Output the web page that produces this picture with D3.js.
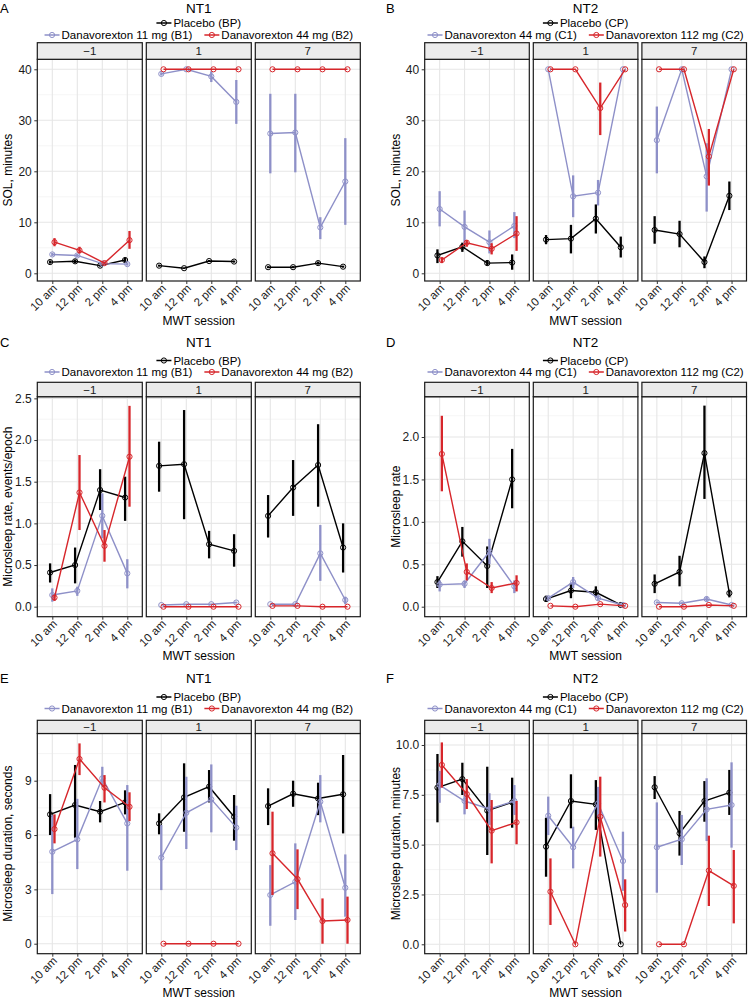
<!DOCTYPE html>
<html><head><meta charset="utf-8">
<script src="https://cdn.jsdelivr.net/npm/d3@7"></script>
<style>
body{margin:0;background:#fff}
text{font-family:"Liberation Sans",Arial,Helvetica,sans-serif}
</style>
</head><body>
<svg id="c" width="748" height="1000"></svg>
<script>
// ---------- categories / labels ----------
const sessions = ["10 am", "12 pm", "2 pm", "4 pm"];
const days = ["\u22121", "1", "7"];
const nt1Series = ["Placebo (BP)", "Danavorexton 11 mg (B1)", "Danavorexton 44 mg (B2)"];
const nt2Series = ["Placebo (CP)", "Danavorexton 44 mg (C1)", "Danavorexton 112 mg (C2)"];
const ticksSOL = [0, 10, 20, 30, 40];
const ticksRate1 = [0, 0.5, 1.0, 1.5, 2.0, 2.5];
const ticksRate2 = [0, 0.5, 1.0, 1.5, 2.0];
const ticksDurSec = [0, 3, 6, 9];
const ticksDurMin = [0, 2.5, 5.0, 7.5, 10.0];

// ---------- values: per day (−1, 1, 7), per session: [mean, lower, upper] ----------
// A: NT1 SOL, minutes
const A_BP = [[[2.2,1.9,2.5],[2.35,2.0,2.7],[1.5,1.3,1.7],[2.6,2.1,3.1]],
              [[1.5,1.3,1.7],[1.0,0.9,1.1],[2.4,2.2,2.6],[2.3,2.1,2.5]],
              [[1.2,1.0,1.4],[1.2,1.0,1.4],[2.0,1.7,2.3],[1.3,1.1,1.5]]];
const A_B1 = [[[3.7,3.4,4.0],[3.5,3.2,3.8],[1.9,1.7,2.1],[1.8,1.5,2.1]],
              [[39.1,38.8,39.4],[40,40,40],[38.6,37.5,39.6],[33.6,29.3,37.9]],
              [[27.4,19.6,35.2],[27.6,19.8,35.2],[9.0,6.7,11.0],[18.0,9.5,26.5]]];
const A_B2 = [[[6.1,5.3,6.9],[4.5,3.9,5.2],[2.0,1.7,2.3],[6.5,4.8,8.3]],
              [[40,40,40],[40,40,40],[40,40,40],[40,40,40]],
              [[40,40,40],[40,40,40],[40,40,40],[40,40,40]]];
// B: NT2 SOL, minutes
const B_CP = [[[3.5,2.0,4.7],[5.2,4.2,6.0],[2.0,1.5,2.6],[2.1,0.7,3.7]],
              [[6.6,5.7,7.5],[6.8,3.9,9.5],[10.7,7.8,13.5],[5.1,3.1,7.2]],
              [[8.5,5.8,11.2],[7.7,5.1,10.3],[2.2,1.0,3.3],[15.2,12.4,18.0]]];
const B_C1 = [[[12.6,9.2,16.1],[9.1,5.7,12.3],[6.1,3.9,8.4],[9.3,6.9,12.0]],
              [[40,40,40],[15.1,11.0,19.2],[15.8,13.3,18.3],[40,40,40]],
              [[26.1,19.6,32.7],[40,40,40],[19.0,12.1,25.5],[40,40,40]]];
const B_C2 = [[[2.6,2.0,3.1],[6.0,5.2,6.5],[4.8,3.7,5.9],[7.8,4.4,11.2]],
              [[40,40,40],[40,40,40],[32.4,27.1,37.4],[40,40,40]],
              [[40,40,40],[40,40,40],[22.9,17.2,28.3],[40,40,40]]];
// C: NT1 microsleep rate, events/epoch
const C_BP = [[[0.41,0.29,0.52],[0.50,0.28,0.71],[1.40,1.16,1.65],[1.31,1.03,1.56]],
              [[1.69,1.38,1.98],[1.71,1.05,2.36],[0.75,0.58,0.91],[0.67,0.48,0.87]],
              [[1.09,0.83,1.34],[1.43,1.09,1.76],[1.70,1.20,2.19],[0.71,0.41,1.00]]];
const C_B1 = [[[0.14,0.06,0.22],[0.19,0.13,0.24],[1.09,0.82,1.36],[0.40,0.22,0.57]],
              [[0.02,0.02,0.02],[0.03,0.03,0.03],[0.03,0.03,0.03],[0.05,0.04,0.06]],
              [[0.03,0.03,0.03],[0.03,0.03,0.03],[0.64,0.31,0.98],[0.08,0.03,0.12]]];
const C_B2 = [[[0.11,0.07,0.14],[1.37,0.92,1.82],[0.73,0.54,0.92],[1.80,1.20,2.41]],
              [[0,0,0],[0,0,0],[0,0,0],[0,0,0]],
              [[0.01,0.01,0.01],[0.01,0.01,0.01],[0,0,0],[0,0,0]]];
// D: NT2 microsleep rate
const D_CP = [[[0.29,0.22,0.36],[0.77,0.59,0.94],[0.48,0.22,0.71],[1.50,1.16,1.86]],
              [[0.09,0.06,0.13],[0.19,0.10,0.28],[0.17,0.11,0.24],[0.02,0.01,0.03]],
              [[0.27,0.16,0.38],[0.41,0.24,0.60],[1.81,1.27,2.37],[0.16,0.11,0.20]]];
const D_C1 = [[[0.26,0.18,0.31],[0.27,0.22,0.31],[0.65,0.50,0.80],[0.24,0.16,0.31]],
              [[0.10,0.08,0.12],[0.29,0.22,0.35],[0.10,0.08,0.13],[0.02,0.01,0.03]],
              [[0.05,0.04,0.06],[0.04,0.03,0.05],[0.09,0.06,0.12],[0.02,0.01,0.03]]];
const D_C2 = [[[1.80,1.36,2.25],[0.41,0.31,0.51],[0.22,0.16,0.29],[0.28,0.18,0.37]],
              [[0.01,0.01,0.01],[0,0,0],[0.03,0.03,0.03],[0.01,0.01,0.01]],
              [[0,0,0],[0,0,0],[0.02,0.02,0.02],[0.01,0.01,0.01]]];
// E: NT1 microsleep duration, seconds
const E_BP = [[[7.14,6.0,8.26],[7.66,5.85,9.87],[7.29,6.7,7.88],[7.8,7.14,8.47]],
              [[6.64,6.04,7.2],[8.08,6.18,9.96],[8.67,7.8,9.59],[7.01,5.69,8.21]],
              [[7.6,6.55,8.58],[8.28,7.56,9.0],[8.02,7.1,8.89],[8.25,6.09,10.42]]];
const E_B1 = [[[5.08,2.74,7.1],[5.76,4.12,8.0],[9.13,8.67,9.77],[6.64,4.03,8.76]],
              [[4.75,2.96,6.55],[7.23,5.23,9.22],[7.97,6.15,9.9],[6.41,5.17,7.62]],
              [[2.69,0.99,4.34],[3.42,1.31,5.54],[7.84,6.7,9.31],[3.09,1.49,4.93]]];
const E_B2 = [[[6.33,5.54,7.14],[10.2,9.31,11.06],[8.61,7.8,9.31],[7.56,6.77,8.36]],
              [[0,0,0],[0,0,0],[0,0,0],[0,0,0]],
              [[4.99,2.69,7.29],[3.57,1.91,5.21],[1.25,0,2.5],[1.31,0,2.6]]];
// F: NT2 microsleep duration, minutes
const F_CP = [[[7.86,6.12,9.55],[8.29,7.49,9.11],[6.71,4.48,8.91],[7.12,5.85,8.36]],
              [[4.9,3.39,6.35],[7.19,5.82,8.53],[7.02,5.74,8.24],[0,0,0]],
              [[7.88,7.29,8.44],[5.57,4.45,6.69],[7.19,6.15,8.19],[7.61,6.49,8.75]]];
const F_C1 = [[[7.99,7.1,8.7],[7.19,6.52,7.66],[6.79,5.99,7.58],[7.19,6.49,7.99]],
              [[6.45,5.48,7.41],[4.87,3.81,5.9],[7.07,6.4,7.9],[4.18,2.68,5.65]],
              [[4.87,2.59,7.12],[5.27,3.98,6.49],[6.77,5.18,8.33],[6.99,4.85,9.13]]];
const F_C2 = [[[9.0,7.86,10.13],[7.54,6.79,8.29],[5.70,4.06,7.24],[6.12,5.02,7.19]],
              [[2.64,0.97,4.31],[0,0,0],[6.4,4.4,8.41],[1.97,0.64,3.26]],
              [[0,0,0],[0,0,0],[3.7,1.92,5.45],[2.93,1.05,4.73]]];

// ---------- layout ----------
const colors = ["#000000", "#8E90C8", "#D7262B"];
const dodge = [-2.2, 0, 2.2];
const cols = [
  {x0: 37.3, x1: 360.3, letterX: 0, yTitleX: 12},
  {x0: 424.7, x1: 746.5, letterX: 386, yTitleX: 399.5}
];
const rows = [
  {titleY: 12.5, leg1: 27, leg2: 39, stripTop: 42.7, stripBot: 59.3, plotBot: 281, xTitle: 325},
  {titleY: 346.5, leg1: 364.5, leg2: 376, stripTop: 382.3, stripBot: 396.7, plotBot: 616.7, xTitle: 660},
  {titleY: 682.5, leg1: 701, leg2: 712.5, stripTop: 720.3, stripBot: 733.5, plotBot: 953.7, xTitle: 997}
];
const f1 = d3.format(".1f");
const panels = [
  {letter:"A", title:"NT1", col:0, row:0, ylab:"SOL, minutes", dom:[-1.51, 41.96], ticks:ticksSOL, minorStep:5, fmt:d=>d, names:nt1Series, data:[A_BP, A_B1, A_B2]},
  {letter:"B", title:"NT2", col:1, row:0, ylab:"SOL, minutes", dom:[-1.51, 41.96], ticks:ticksSOL, minorStep:5, fmt:d=>d, names:nt2Series, data:[B_CP, B_C1, B_C2]},
  {letter:"C", title:"NT1", col:0, row:1, ylab:"Microsleep rate, events/epoch", dom:[-0.12, 2.52], ticks:ticksRate1, minorStep:0.25, fmt:f1, names:nt1Series, data:[C_BP, C_B1, C_B2]},
  {letter:"D", title:"NT2", col:1, row:1, ylab:"Microsleep rate", dom:[-0.118, 2.475], ticks:ticksRate2, minorStep:0.25, fmt:f1, names:nt2Series, data:[D_CP, D_C1, D_C2]},
  {letter:"E", title:"NT1", col:0, row:2, ylab:"Microsleep duration, seconds", dom:[-0.552, 11.607], ticks:ticksDurSec, minorStep:1.5, fmt:d=>d, names:nt1Series, data:[E_BP, E_B1, E_B2]},
  {letter:"F", title:"NT2", col:1, row:2, ylab:"Microsleep duration, minutes", dom:[-0.472, 10.577], ticks:ticksDurMin, minorStep:1.25, fmt:f1, names:nt2Series, data:[F_CP, F_C1, F_C2]}
];

const svg = d3.select("#c");
const FS = 12;

function drawKey(g, x, yb, color) {
  const cy = yb - 4;
  g.append("line").attr("x1", x).attr("x2", x + 15).attr("y1", cy).attr("y2", cy)
    .attr("stroke", color).attr("stroke-width", 1.5);
  g.append("circle").attr("cx", x + 7.5).attr("cy", cy).attr("r", 2.6)
    .attr("fill", "none").attr("stroke", color).attr("stroke-width", 1);
}

panels.forEach(p => {
  const c = cols[p.col], r = rows[p.row];
  const g = svg.append("g");
  const gap = 4;
  const fw = (c.x1 - c.x0 - 2 * gap) / 3;
  const y = d3.scaleLinear().domain(p.dom).range([r.plotBot, r.stripBot]);
  const x = d3.scalePoint().domain(sessions).range([0, fw]).padding(0.6);
  const cx = (c.x0 + c.x1) / 2;

  // panel letter and title
  g.append("text").attr("x", c.letterX).attr("y", r.titleY).attr("font-size", 13).text(p.letter);
  g.append("text").attr("x", cx).attr("y", r.titleY).attr("font-size", 13.5).attr("text-anchor", "middle").text(p.title);

  // legend
  const lg = g.append("g").attr("font-size", 11.5);
  const t1 = lg.append("text").attr("y", r.leg1).text(p.names[0]);
  const w1 = t1.node().getComputedTextLength();
  const start1 = cx - (17 + w1) / 2;
  drawKey(lg, start1, r.leg1, colors[0]);
  t1.attr("x", start1 + 17);
  const t2 = lg.append("text").attr("y", r.leg2).text(p.names[1]);
  const t3 = lg.append("text").attr("y", r.leg2).text(p.names[2]);
  const w2 = t2.node().getComputedTextLength(), w3 = t3.node().getComputedTextLength();
  const tot = 17 + w2 + 12 + 17 + w3;
  const s2 = cx - tot / 2;
  drawKey(lg, s2, r.leg2, colors[1]);
  t2.attr("x", s2 + 17);
  const s3 = s2 + 17 + w2 + 12;
  drawKey(lg, s3, r.leg2, colors[2]);
  t3.attr("x", s3 + 17);

  // axis titles
  g.append("text").attr("transform", `translate(${c.yTitleX},${(r.stripBot + r.plotBot) / 2}) rotate(-90)`)
    .attr("text-anchor", "middle").attr("font-size", FS).text(p.ylab);
  g.append("text").attr("x", cx).attr("y", r.xTitle).attr("text-anchor", "middle").attr("font-size", FS).text("MWT session");

  const minorVals = d3.range(0, p.dom[1], p.minorStep)
    .filter(v => !p.ticks.some(t => Math.abs(t - v) < 1e-9));

  days.forEach((day, di) => {
    const fx = c.x0 + di * (fw + gap);
    const fg = g.append("g").attr("transform", `translate(${fx},0)`);
    const ph = r.plotBot - r.stripBot;
    fg.append("rect").attr("x", 0).attr("y", r.stripBot).attr("width", fw).attr("height", ph).attr("fill", "#fff");
    fg.selectAll(".mn").data(minorVals).enter().append("line")
      .attr("x1", 0).attr("x2", fw).attr("y1", d => y(d)).attr("y2", d => y(d))
      .attr("stroke", "#f2f2f2").attr("stroke-width", 0.8);
    fg.selectAll(".mj").data(p.ticks).enter().append("line")
      .attr("x1", 0).attr("x2", fw).attr("y1", d => y(d)).attr("y2", d => y(d))
      .attr("stroke", "#e6e6e6").attr("stroke-width", 1.1);
    fg.selectAll(".vx").data(sessions).enter().append("line")
      .attr("x1", d => x(d)).attr("x2", d => x(d)).attr("y1", r.stripBot).attr("y2", r.plotBot)
      .attr("stroke", "#e6e6e6").attr("stroke-width", 1.1);

    p.data.forEach((arr, si) => {
      const pts = arr[di].map((d, k) => ({x: x(sessions[k]) + dodge[si], m: d[0], lo: d[1], hi: d[2]}));
      fg.append("path").attr("d", d3.line().x(d => d.x).y(d => y(d.m))(pts))
        .attr("fill", "none").attr("stroke", colors[si]).attr("stroke-width", 1.4);
      fg.selectAll(null).data(pts.filter(d => d.hi - d.lo > 1e-9)).enter().append("line")
        .attr("x1", d => d.x).attr("x2", d => d.x).attr("y1", d => y(d.lo)).attr("y2", d => y(d.hi))
        .attr("stroke", colors[si]).attr("stroke-width", 2.3);
      fg.selectAll(null).data(pts).enter().append("circle")
        .attr("cx", d => d.x).attr("cy", d => y(d.m)).attr("r", 2.6)
        .attr("fill", "none").attr("stroke", colors[si]).attr("stroke-width", 1);
    });

    fg.append("rect").attr("x", 0).attr("y", r.stripBot).attr("width", fw).attr("height", ph)
      .attr("fill", "none").attr("stroke", "#1a1a1a").attr("stroke-width", 1.2);
    fg.append("rect").attr("x", 0).attr("y", r.stripTop).attr("width", fw).attr("height", r.stripBot - r.stripTop)
      .attr("fill", "#ebebeb").attr("stroke", "#1a1a1a").attr("stroke-width", 1.2);
    fg.append("text").attr("x", fw / 2).attr("y", (r.stripTop + r.stripBot) / 2 + 4)
      .attr("text-anchor", "middle").attr("font-size", 11.5).attr("fill", "#1a1a1a").text(day);

    const xa = fg.append("g").attr("transform", `translate(0,${r.plotBot})`)
      .call(d3.axisBottom(x).tickSize(3).tickSizeOuter(0));
    xa.select(".domain").remove();
    xa.selectAll("line").attr("stroke", "#333");
    xa.selectAll("text").attr("font-size", 11.5).attr("fill", "#1a1a1a").attr("font-family", null)
      .attr("y", 0).attr("x", 0).attr("dy", "0.6em")
      .attr("text-anchor", "end").attr("transform", "translate(0,3) rotate(-45)");

    if (di === 0) {
      const ya = fg.append("g").call(d3.axisLeft(y).tickValues(p.ticks).tickFormat(p.fmt).tickSize(3).tickPadding(2.5));
      ya.select(".domain").remove();
      ya.selectAll("line").attr("stroke", "#333");
      ya.selectAll("text").attr("font-size", FS).attr("fill", "#1a1a1a").attr("font-family", null);
    }
  });
});
</script>
</body></html>
